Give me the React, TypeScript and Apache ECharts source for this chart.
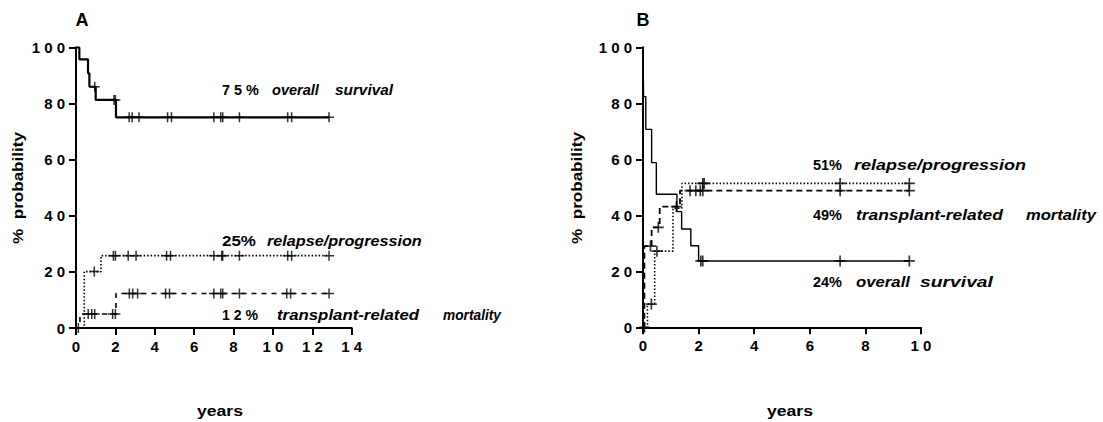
import React, { useEffect, useRef } from "react";
import * as echarts from "echarts";

// ---------- DATA ----------
// Panel A
const xTickLabelsA = ["0", "2", "4", "6", "8", "1 0", "1 2", "1 4"];
const yTickLabels = ["0", "2 0", "4 0", "6 0", "8 0", "1 0 0"];
const xTickLabelsB = ["0", "2", "4", "6", "8", "1 0"];

const endA = 12.85;
const osTimesA = [0, 0.17, 0.61, 0.68, 1.0, 2.03];
const osValsA = [100, 95.8, 90.8, 86.0, 81.3, 75.1];
const osCensA = [0.95, 1.93, 2.0, 2.7, 2.85, 3.2, 4.65, 4.85, 7.0, 7.35, 7.45, 8.3, 10.75, 10.95, 12.85];

const relTimesA = [0, 0.42, 1.27];
const relValsA = [0, 20.1, 25.8];
const relCensA = [0.12, 0.93, 1.9, 2.0, 2.65, 3.05, 4.6, 4.8, 7.0, 7.4, 7.45, 8.3, 10.75, 10.95, 12.85];

const trmTimesA = [0, 0.2, 2.03];
const trmValsA = [0, 5.0, 12.3];
const trmCensA = [0.62, 0.8, 0.95, 1.86, 2.0, 2.71, 2.88, 3.13, 4.55, 4.75, 7.0, 7.35, 7.45, 8.3, 10.7, 10.9, 12.85];

// Panel B
const endB = 9.58;
const osTimesB = [0, 0.02, 0.1, 0.31, 0.48, 1.22, 1.39, 1.72, 2.0];
const osValsB = [100, 82.4, 70.7, 58.8, 47.5, 41.3, 35.1, 29.1, 23.7];
const osCensB = [2.08, 2.15, 7.09, 9.58];

const relTimesB = [0, 0.16, 0.42, 1.08, 1.4];
const relValsB = [0, 8.3, 27.2, 42.5, 51.4];
const relCensB = [0.05, 0.3, 0.5, 2.15, 2.2, 7.09, 9.58];

const trmTimesB = [0, 0.05, 0.31, 0.6, 1.33];
const trmValsB = [0, 29.0, 35.7, 43.1, 48.8];
const trmCensB = [0.27, 0.55, 1.2, 1.69, 1.9, 2.06, 2.15, 7.09, 9.58];

// texts
const panelLabels = ["A", "B"];
const annotA = [["7 5 %", "overall", "survival"], ["25%", "relapse/progression"], ["1 2 %", "transplant-related", "mortality"]];
const annotB = [["51%", "relapse/progression"], ["49%", "transplant-related", "mortality"], ["24%", "overall", "survival"]];
const yName = "%  probability";
const xName = "years";

// ---------- HELPERS ----------
const FAMILY = '"Liberation Sans", Arial, Helvetica, sans-serif';
let measureCtx: CanvasRenderingContext2D | null = null;
function measure(text: string, size: number, italic: boolean) {
  if (!measureCtx) measureCtx = document.createElement("canvas").getContext("2d");
  measureCtx!.font = `${italic ? "italic " : ""}bold ${size}px ${FAMILY}`;
  return measureCtx!.measureText(text).width;
}
function stepAt(times: number[], vals: number[], t: number) {
  let v = vals[0];
  for (let i = 0; i < times.length; i++) if (times[i] <= t) v = vals[i];
  return v;
}
function curve(times: number[], vals: number[], end: number) {
  const d = times.map((t, i) => [t, vals[i]]);
  d.push([end, vals[vals.length - 1]]);
  return d;
}
function cens(times: number[], vals: number[], c: number[]) {
  return c.map((t) => [t, stepAt(times, vals, t)]);
}
const CROSS = "path://M4.25,0h1.5v10h-1.5zM0,4.25h10v1.5h-10z";

export default function App() {
  const ref = useRef<HTMLDivElement>(null);
  useEffect(() => {
    if (!ref.current) return;
    const chart = echarts.init(ref.current, undefined, { renderer: "svg" });

    const axisCommon = (labels: string[], step: number) => ({
      type: "value" as const,
      interval: step,
      axisLine: { show: true, onZero: false, lineStyle: { color: "#000", width: 2 } },
      axisTick: { show: true, length: 7, lineStyle: { color: "#000", width: 2 } },
      splitLine: { show: false },
      axisLabel: {
        color: "#000",
        fontSize: 15,
        fontWeight: "bold" as const,
        fontFamily: FAMILY,
        margin: 11,
        formatter: (v: number) => labels[Math.round(v / step)] ?? "",
      },
    });

    const lineSeries = (data: number[][], xi: number, style: any) => ({
      type: "line",
      xAxisIndex: xi,
      yAxisIndex: xi,
      data,
      step: "end",
      showSymbol: false,
      symbol: "none",
      clip: false,
      silent: true,
      lineStyle: { color: "#000", ...style },
    });
    const censSeries = (data: number[][], xi: number, size: number) => ({
      type: "scatter",
      xAxisIndex: xi,
      yAxisIndex: xi,
      data,
      symbol: CROSS,
      symbolSize: size,
      clip: false,
      silent: true,
      z: 5,
      itemStyle: { color: "#000" },
    });

    // annotation layout: [xStart, xEnd] per piece, and row y
    const layoutA = [
      [[222, 259], [272, 319], [335, 393]],
      [[222, 256], [267, 422]],
      [[222, 258], [277, 419], [443, 501]],
    ];
    const rowYA = [90, 241, 315];
    const layoutB = [
      [[813, 842], [854, 1026]],
      [[813, 842], [856, 1003], [1026, 1096]],
      [[813, 842], [856, 910], [920, 993]],
    ];
    const rowYB = [165, 215, 282];

    const graphics: any[] = [];
    const addRows = (annots: string[][], layout: number[][][], rowY: number[]) => {
      annots.forEach((row, r) => {
        row.forEach((txt, k) => {
          const italic = k > 0;
          const [x0, x1] = layout[r][k];
          const w = measure(txt, 14, italic);
          graphics.push({
            type: "text",
            x: x0,
            y: rowY[r],
            scaleX: (x1 - x0) / w,
            silent: true,
            style: {
              text: txt,
              fontSize: 14,
              fontWeight: "bold",
              fontStyle: italic ? "italic" : "normal",
              fontFamily: FAMILY,
              fill: "#000",
              textAlign: "left",
              textVerticalAlign: "middle",
            },
          });
        });
      });
    };
    addRows(annotA, layoutA, rowYA);
    addRows(annotB, layoutB, rowYB);

    // panel letters
    [[82, 20], [643, 20]].forEach(([x, y], i) =>
      graphics.push({
        type: "text", x, y, silent: true,
        style: { text: panelLabels[i], fontSize: 18, fontWeight: "bold", fontFamily: FAMILY, fill: "#000", textAlign: "center", textVerticalAlign: "middle" },
      })
    );
    // axis names
    [[17, 188], [576, 188]].forEach(([x, y]) => {
      const w = measure(yName, 15, false);
      graphics.push({
        type: "text", x, y, rotation: Math.PI / 2, scaleX: 112 / w, silent: true,
        style: { text: yName, fontSize: 15, fontWeight: "bold", fontFamily: FAMILY, fill: "#000", textAlign: "center", textVerticalAlign: "middle" },
      });
    });
    [[220, 410], [790, 410]].forEach(([x, y]) => {
      const w = measure(xName, 15, false);
      graphics.push({
        type: "text", x: x - 23, y, scaleX: 46 / w, silent: true,
        style: { text: xName, fontSize: 15, fontWeight: "bold", fontFamily: FAMILY, fill: "#000", textAlign: "left", textVerticalAlign: "middle" },
      });
    });

    const dotted = { width: 1.6, type: [1.5, 2] };

    chart.setOption({
      animation: false,
      backgroundColor: "#fff",
      grid: [
        { left: 76, top: 47.5, width: 275.7, height: 280.5, containLabel: false, outerBoundsMode: "none" },
        { left: 643, top: 47.3, width: 278, height: 280, containLabel: false, outerBoundsMode: "none" },
      ],
      xAxis: [
        { gridIndex: 0, min: 0, max: 14, ...axisCommon(xTickLabelsA, 2) },
        { gridIndex: 1, min: 0, max: 10, ...axisCommon(xTickLabelsB, 2) },
      ],
      yAxis: [
        { gridIndex: 0, min: 0, max: 100, ...axisCommon(yTickLabels, 20) },
        { gridIndex: 1, min: 0, max: 100, ...axisCommon(yTickLabels, 20) },
      ],
      series: [
        lineSeries(curve(osTimesA, osValsA, endA), 0, { width: 2.2, type: "solid" }),
        lineSeries(curve(relTimesA, relValsA, endA), 0, dotted),
        lineSeries(curve(trmTimesA, trmValsA, endA), 0, { width: 1.6, type: [5, 5] }),
        censSeries(cens(osTimesA, osValsA, osCensA), 0, 10),
        censSeries(cens(relTimesA, relValsA, relCensA), 0, 10),
        censSeries(cens(trmTimesA, trmValsA, trmCensA), 0, 10),
        lineSeries(curve(osTimesB, osValsB, endB), 1, { width: 1.4, type: "solid" }),
        lineSeries(curve(relTimesB, relValsB, endB), 1, dotted),
        lineSeries(curve(trmTimesB, trmValsB, endB), 1, { width: 1.8, type: [6, 4] }),
        censSeries(cens(osTimesB, osValsB, osCensB), 1, 11),
        censSeries(cens(relTimesB, relValsB, relCensB), 1, 11),
        censSeries(cens(trmTimesB, trmValsB, trmCensB), 1, 11),
      ],
      graphic: graphics,
    });
    return () => chart.dispose();
  }, []);
  return <div ref={ref} style={{ position: "absolute", left: 0, top: 0, width: 1103, height: 422 }} />;
}
